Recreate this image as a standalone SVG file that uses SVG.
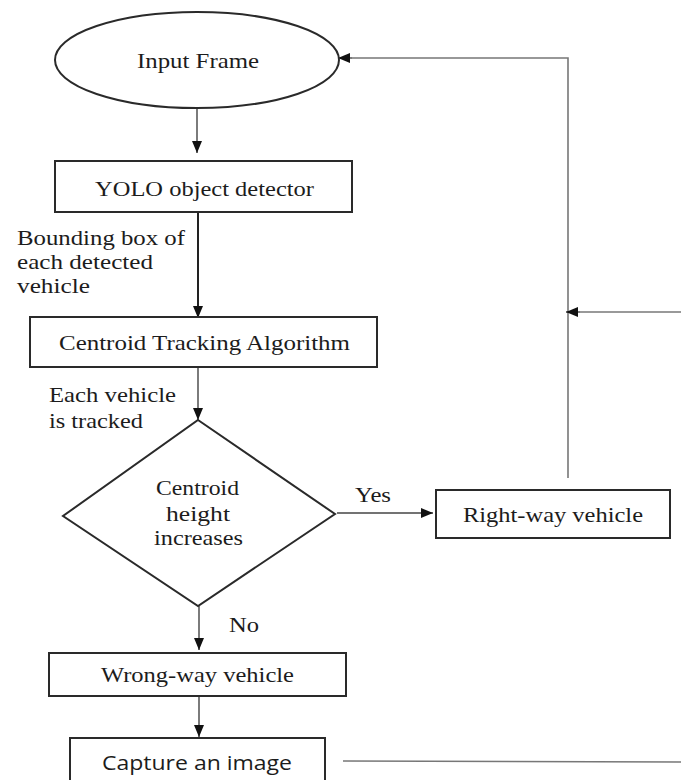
<svg xmlns="http://www.w3.org/2000/svg" width="681" height="780" viewBox="0 0 681 780">
<style>
.shape{fill:#fff;stroke:#2a2a2a;stroke-width:2}
.t{font-family:"Liberation Serif","Times New Roman",serif;font-size:21px;fill:#1c1c1c}
.s{font-family:"Open Sans","Noto Sans","Liberation Sans",sans-serif;font-size:20px;fill:#1c1c1c}
.ln{fill:none;stroke:#444;stroke-width:1.4}
.lg{fill:none;stroke:#777;stroke-width:1.6}
</style>
<defs>
<marker id="ah" viewBox="0 0 12 10" refX="12" refY="5" markerWidth="12" markerHeight="10" markerUnits="userSpaceOnUse" orient="auto">
<path d="M0,0 L12,5 L0,10 Z" fill="#111"/>
</marker>
</defs>
<rect width="681" height="780" fill="#fff"/>
<g id="connectors">
<line class="ln" x1="197" y1="108" x2="197" y2="153" marker-end="url(#ah)"/>
<line class="ln" x1="198" y1="212" x2="198" y2="318" style="stroke:#222;stroke-width:2" marker-end="url(#ah)"/>
<line class="ln" x1="198" y1="367" x2="198" y2="420" marker-end="url(#ah)"/>
<line class="ln" x1="337" y1="513" x2="433" y2="513" marker-end="url(#ah)"/>
<polyline class="lg" points="568,478 568,58 352,58"/>
<line class="ln" x1="352" y1="58" x2="338" y2="58" marker-end="url(#ah)"/>
<line class="lg" x1="681" y1="312" x2="580" y2="312"/>
<line class="ln" x1="580" y1="312" x2="566" y2="312" marker-end="url(#ah)"/>
<line class="ln" x1="199" y1="606" x2="199" y2="650" marker-end="url(#ah)"/>
<line class="ln" x1="199" y1="696" x2="199" y2="737" marker-end="url(#ah)"/>
<line class="lg" x1="343" y1="761" x2="681" y2="762"/>
<text class="t" x="17" y="245" textLength="168" lengthAdjust="spacingAndGlyphs">Bounding box of</text>
<text class="t" x="17" y="269" textLength="136" lengthAdjust="spacingAndGlyphs">each detected</text>
<text class="t" x="17" y="293" textLength="73" lengthAdjust="spacingAndGlyphs">vehicle</text>
<text class="t" x="49" y="402" textLength="127" lengthAdjust="spacingAndGlyphs">Each vehicle</text>
<text class="t" x="49" y="428" textLength="94" lengthAdjust="spacingAndGlyphs">is tracked</text>
<text class="t" x="355" y="502" textLength="36" lengthAdjust="spacingAndGlyphs">Yes</text>
<text class="t" x="229" y="632" textLength="30" lengthAdjust="spacingAndGlyphs">No</text>
</g>
<g id="input-frame">
<ellipse class="shape" cx="197" cy="60" rx="142" ry="48"/>
<text class="t" x="137" y="68" textLength="122" lengthAdjust="spacingAndGlyphs">Input Frame</text>
</g>
<g id="yolo">
<rect class="shape" x="55" y="161" width="297" height="51"/>
<text class="t" x="95" y="196" textLength="219" lengthAdjust="spacingAndGlyphs">YOLO object detector</text>
</g>
<g id="centroid-tracking">
<rect class="shape" x="30" y="317" width="347" height="50"/>
<text class="t" x="59" y="350" textLength="291" lengthAdjust="spacingAndGlyphs">Centroid Tracking Algorithm</text>
</g>
<g id="decision">
<polygon class="shape" points="198,420 335,514 198,606 63,516"/>
<text class="t" x="156" y="495" textLength="83" lengthAdjust="spacingAndGlyphs">Centroid</text>
<text class="t" x="166" y="521" textLength="64" lengthAdjust="spacingAndGlyphs">height</text>
<text class="t" x="154" y="545" textLength="89" lengthAdjust="spacingAndGlyphs">increases</text>
</g>
<g id="right-way">
<rect class="shape" x="436" y="490" width="234" height="48"/>
<text class="t" x="463" y="522" textLength="180" lengthAdjust="spacingAndGlyphs">Right-way vehicle</text>
</g>
<g id="wrong-way">
<rect class="shape" x="49" y="653" width="297" height="43"/>
<text class="t" x="101" y="682" textLength="193" lengthAdjust="spacingAndGlyphs">Wrong-way vehicle</text>
</g>
<g id="capture">
<rect class="shape" x="70" y="738" width="255" height="60"/>
<text class="s" x="102" y="770" textLength="190" lengthAdjust="spacingAndGlyphs">Capture an image</text>
</g>
</svg>
